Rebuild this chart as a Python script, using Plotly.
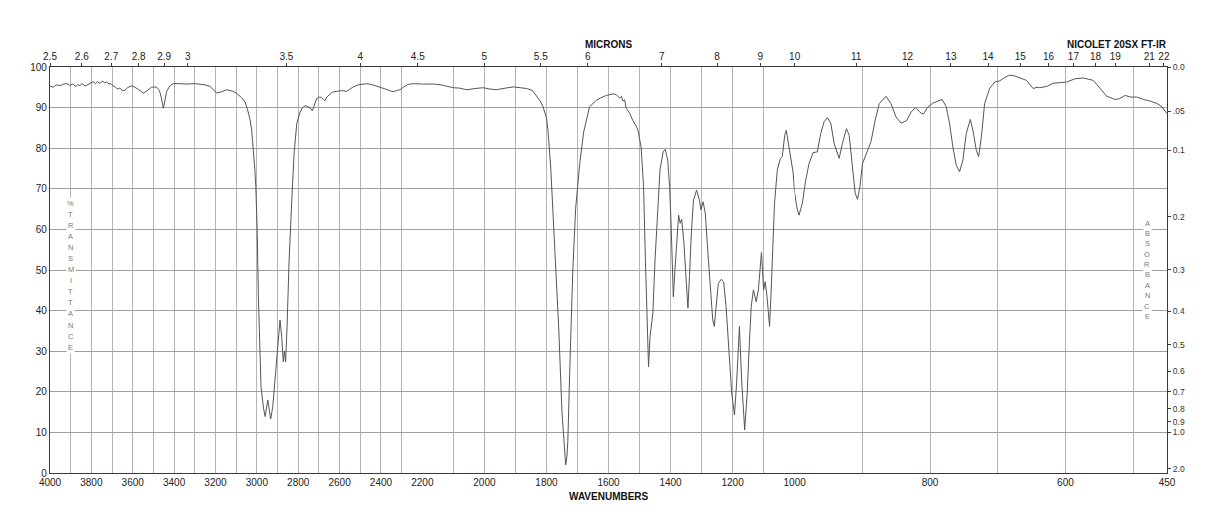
import plotly.graph_objects as go

# ---------------- data ----------------
wavenumber = [
    4000, 3985, 3970, 3950, 3935, 3919, 3905, 3890, 3875, 3865, 3855, 3845, 3830, 3815, 3800,
    3791, 3780, 3770, 3760, 3745, 3735, 3726, 3715, 3705, 3694, 3685, 3675, 3662, 3650, 3637,
    3625, 3610, 3600, 3585, 3573, 3560, 3549, 3535, 3525, 3510, 3492, 3480, 3471, 3462, 3452,
    3444, 3436, 3420, 3404, 3370, 3339, 3300, 3275, 3250, 3226, 3210, 3194, 3170, 3146, 3120,
    3097, 3075, 3057, 3045, 3033, 3025, 3017, 3010, 3005, 2998, 2993, 2986, 2980, 2968, 2960,
    2952, 2947, 2940, 2933, 2923, 2912, 2899, 2888, 2880, 2872, 2867, 2861, 2854, 2844, 2831,
    2820, 2807, 2791, 2780, 2767, 2756, 2743, 2732, 2722, 2711, 2697, 2687, 2678, 2670, 2662,
    2654, 2635, 2614, 2590, 2566, 2550, 2534, 2510, 2490, 2469, 2440, 2420, 2405, 2380, 2355,
    2340, 2325, 2308, 2292, 2270, 2243, 2220, 2200,
    2165, 2140, 2120, 2100, 2080, 2057, 2030, 2004, 1985, 1961, 1940, 1920, 1907, 1885, 1864,
    1845, 1832, 1820, 1811, 1800, 1795, 1786, 1773, 1760, 1750, 1742, 1738, 1734, 1731, 1725,
    1715, 1706, 1693, 1680, 1670, 1661, 1650, 1639, 1625, 1607, 1595, 1586, 1575, 1564, 1558,
    1554, 1548, 1543, 1532, 1522, 1511, 1505, 1495, 1487, 1481, 1475, 1471, 1466, 1457, 1450,
    1441, 1434, 1424, 1417, 1409, 1403, 1398, 1394, 1391, 1386, 1380, 1374, 1369, 1364, 1357,
    1350, 1344, 1339, 1333, 1326, 1316, 1307, 1302, 1295, 1288, 1281, 1273, 1264, 1259, 1251,
    1246, 1237, 1229, 1221, 1212, 1203, 1194, 1187, 1178, 1171, 1161, 1153, 1146, 1140, 1133,
    1124, 1117, 1111, 1107, 1100, 1095, 1089, 1081, 1076, 1070, 1065, 1056, 1046, 1040, 1032,
    1027, 1018, 1010, 1005, 1000,
    997, 993.6, 988.7, 983.7, 978.8, 972.9, 966.5, 961.5, 956.6, 951.7, 946.7, 941.7, 934.3,
    929.4, 923.5, 919.5, 914.6, 910.6, 907.2, 903.6, 899.8, 893.8, 887.3, 881, 875, 865.1,
    857.7, 850.3, 842.8, 834.5, 828, 821.6, 814.7, 809.8, 803.4, 796, 788.6, 782.1, 776.1,
    771.2, 766.3, 761.3, 756.4, 751.5, 746.5, 740.6, 736.7, 731.7, 728.3, 724.2, 719.4, 712,
    704.5, 697, 690, 682.3, 675, 667.5, 657.5, 647.7, 642, 637.8, 627.9, 618.1, 608, 598.2,
    586, 573.6, 558.8, 548.9, 539, 526.7, 520, 511.8, 504.4, 494.5, 484.6, 474.7, 464.8,
    457.4, 450,
]
transmittance = [
    95.3, 95.0, 95.6, 95.4, 95.8, 95.9, 95.5, 95.8, 95.2, 95.7, 95.4, 95.9, 95.3, 95.8, 96.1,
    96.4, 95.9, 96.4, 96.0, 96.5, 96.1, 96.3, 95.8, 95.9, 95.3, 95.1, 94.6, 94.8, 94.2, 94.3,
    94.9, 95.3, 95.3, 94.9, 94.5, 94.0, 93.6, 94.0, 94.4, 95.0, 95.1, 94.8, 94.2, 92.5, 89.8,
    92.0, 94.0, 95.4, 95.9, 95.9, 95.8, 95.9, 95.7, 95.6, 95.2, 94.4, 93.6, 93.9, 94.4, 94.1,
    93.5, 92.5, 91.4, 89.5, 87.0, 84.5, 80.3, 75.0, 70.5, 59.0, 44.3, 32.0, 21.3, 16.0, 13.9,
    16.5, 18.0, 15.5, 13.3, 16.4, 22.9, 30.3, 37.7, 33.6, 27.4, 30.0, 27.4, 36.0, 52.5, 67.2,
    78.7, 86.1, 88.9, 89.9, 90.5, 90.3, 90.0, 89.2, 90.6, 92.2, 92.6, 92.5, 92.0, 91.7, 92.6,
    93.0, 93.8, 94.0, 94.2, 94.0, 94.6, 95.1, 95.6, 95.8, 95.9, 95.6, 95.3, 95.1, 94.6, 94.1,
    93.9, 94.2, 94.4, 95.0, 95.7, 95.9, 95.8, 95.8,
    95.8, 95.6, 95.2, 94.9, 94.8, 94.4, 94.7, 94.9, 94.6, 94.4, 94.7, 95.0, 95.1, 94.9, 94.7,
    94.2, 93.0, 91.6, 90.2, 87.5, 84.4, 75.0, 55.0, 35.0, 15.0, 5.0, 2.0, 4.0, 8.0, 25.0,
    50.0, 65.0, 76.0, 84.0, 87.5, 90.2, 91.0, 91.8, 92.4, 93.0, 93.2, 93.4, 93.2, 92.3, 92.8,
    91.6, 91.9, 89.8, 88.6, 86.9, 85.5, 84.4, 80.3, 70.5, 52.5, 36.1, 26.2, 33.6, 39.4, 52.5,
    65.6, 74.6, 79.1, 79.7, 77.0, 70.5, 60.6, 48.4, 43.4, 50.0, 56.7, 63.5, 61.5, 62.5, 56.7,
    48.4, 40.6, 48.4, 59.1, 67.2, 69.7, 67.2, 64.8, 66.8, 64.0, 55.7, 45.9, 37.7, 36.1, 41.8,
    46.7, 47.7, 47.1, 41.0, 30.3, 19.7, 14.3, 22.3, 36.1, 22.9, 10.6, 19.7, 32.0, 41.0, 45.1,
    42.2, 45.1, 51.6, 54.3, 45.1, 47.1, 43.4, 36.1, 44.3, 56.6, 66.4, 74.6, 77.5, 77.9, 83.2,
    84.4, 80.3, 76.2, 74.0, 69.0,
    65.6, 63.5, 66.4, 72.1, 76.2, 78.9, 79.1, 83.6, 86.5, 87.5, 86.2, 81.2, 77.5,
    81.2, 84.8, 83.2, 74.6, 68.9, 67.4, 70.5, 76.2, 78.7, 81.6, 86.9, 91.0, 92.8,
    91.0, 87.7, 86.2, 86.8, 88.9, 90.0, 88.8, 88.4, 90.1, 91.1, 91.6, 92.0, 90.2,
    86.1, 80.3, 75.8, 74.2, 77.1, 83.6, 87.1, 84.4, 79.5, 77.9, 82.8, 91.0, 94.7,
    96.3, 96.6, 97.4, 98.0, 97.8, 97.3, 96.7, 94.7, 95.0, 94.9, 95.2, 96.0, 96.1, 96.3,
    97.1, 97.3, 96.7, 94.7, 92.8, 92.0, 92.2, 93.0, 92.6, 92.6, 92.0, 91.6, 91.0,
    90.2, 88.5,
]

# segment breaks of the wavenumber scale
segment_ranges = [(4000, 2200), (2200, 1000), (1000, 450)]
segment_ticks = [
    list(range(4000, 2199, -100)),
    list(range(2200, 999, -100)),
    [1000, 900, 800, 700, 600, 500, 450],
]
segment_labels = [
    ["4000", "", "3800", "", "3600", "", "3400", "", "3200", "", "3000", "", "2800", "",
     "2600", "", "2400", "", ""],
    ["2200", "", "2000", "", "1800", "", "1600", "", "1400", "", "1200", "", "1000"],
    ["", "", "800", "", "600", "", "450"],
]

micron_segments = [
    ["2.5", "2.6", "2.7", "2.8", "2.9", "3", "3.5", "4", "4.5"],
    ["5", "5.5", "6", "7", "8", "9", "10"],
    ["11", "12", "13", "14", "15", "16", "17", "18", "19", "21", "22"],
]

percent_ticks = [0, 10, 20, 30, 40, 50, 60, 70, 80, 90, 100]
absorbance_values = [0.0, 0.05, 0.1, 0.2, 0.3, 0.4, 0.5, 0.6, 0.7, 0.8, 0.9, 1.0, 2.0]
absorbance_labels = ["0.0", ".05", "0.1", "0.2", "0.3", "0.4", "0.5", "0.6", "0.7", "0.8",
                     "0.9", "1.0", "2.0"]

# ---------------- figure ----------------
FONT = "Liberation Sans, Arial, Helvetica, sans-serif"
AXIS_COLOR = "#3a3a3a"
VGRID = "#b4b4b4"
HGRID = "#a0a0a0"
LINE_COLOR = "#555555"

fig = go.Figure()

domains = [[0, 1 / 3], [1 / 3, 2 / 3], [2 / 3, 1]]
axis_names = ["x", "x2", "x3"]

for i, (hi, lo) in enumerate(segment_ranges):
    xs, ys = [], []
    for w, t in zip(wavenumber, transmittance):
        if lo <= w <= hi:
            xs.append(w)
            ys.append(t)
    fig.add_trace(go.Scatter(x=xs, y=ys, mode="lines", xaxis=axis_names[i], yaxis="y",
                             line=dict(color=LINE_COLOR, width=1), hoverinfo="x+y"))
    # invisible trace to activate the top (micron) axis of this segment
    fig.add_trace(go.Scatter(x=[hi, lo], y=[50, 50], mode="markers",
                             xaxis=f"x{i + 4}", yaxis="y",
                             marker=dict(opacity=0), hoverinfo="skip"))

# invisible trace to activate the absorbance axis
fig.add_trace(go.Scatter(x=[1000, 450], y=[50, 50], xaxis="x3", yaxis="y2", mode="markers",
                         marker=dict(opacity=0), hoverinfo="skip"))

# page body has an 8px margin: size the figure so the plot area lands where intended
layout = dict(
    width=1202, height=512,
    margin=dict(l=42, r=43, t=59, b=47),
    paper_bgcolor="white", plot_bgcolor="white",
    showlegend=False,
    font=dict(family=FONT, size=10, color="#222222"),
)

for i in range(3):
    hi, lo = segment_ranges[i]
    key = "xaxis" if i == 0 else f"xaxis{i + 1}"
    layout[key] = dict(
        domain=domains[i], range=[hi, lo], anchor="y",
        tickmode="array", tickvals=segment_ticks[i], ticktext=segment_labels[i],
        showgrid=True, gridcolor=VGRID, gridwidth=1,
        zeroline=False, showline=True, linecolor=AXIS_COLOR, linewidth=1.2,
        ticks="", tickfont=dict(size=10, color="#222222"),
    )
    layout[f"xaxis{i + 4}"] = dict(
        domain=domains[i], range=[hi, lo], overlaying=axis_names[i], side="top", anchor="y",
        tickmode="array",
        tickvals=[10000.0 / float(m) for m in micron_segments[i]],
        ticktext=micron_segments[i],
        showgrid=False, zeroline=False, showline=True, linecolor=AXIS_COLOR, linewidth=1.2,
        ticks="outside", ticklen=3, tickcolor=AXIS_COLOR, tickwidth=1,
        ticklabelstandoff=-1,
        tickfont=dict(size=10, color="#222222"),
    )

layout["yaxis"] = dict(
    domain=[0, 1], range=[0, 100], anchor="x",
    tickmode="array", tickvals=percent_ticks,
    showgrid=True, gridcolor=HGRID, gridwidth=1,
    zeroline=False, showline=True, linecolor=AXIS_COLOR, linewidth=1.2,
    ticks="", tickfont=dict(size=10, color="#222222"),
)
layout["yaxis2"] = dict(
    range=[0, 100], overlaying="y", side="right", anchor="x3",
    tickmode="array", tickvals=[100 * 10 ** (-a) for a in absorbance_values],
    ticktext=absorbance_labels,
    showgrid=False, zeroline=False, showline=True, linecolor=AXIS_COLOR, linewidth=1.2,
    ticks="outside", ticklen=3, tickcolor=AXIS_COLOR,
    tickfont=dict(size=8.5, color="#333333"),
)

fig.update_layout(**layout)

annotations = [
    dict(text="<b>MICRONS</b>", xref="paper", yref="paper", x=0.5, y=1, yshift=23,
         showarrow=False, font=dict(size=10, color="#111111"), yanchor="middle"),
    dict(text="<b>NICOLET 20SX FT-IR</b>", xref="paper", yref="paper", x=1.002, y=1,
         yshift=23, xanchor="right", yanchor="middle", showarrow=False,
         font=dict(size=10, color="#111111")),
    dict(text="<b>WAVENUMBERS</b>", xref="paper", yref="paper", x=0.5, y=0, yshift=-23,
         showarrow=False, font=dict(size=10, color="#111111"), yanchor="middle"),
]

PLOT_TOP, PLOT_H = 67.0, 406.6
left_letters = list("%TRANSMITTANCE")
for k, ch in enumerate(left_letters):
    ypx = 203.3 + k * 11.1
    annotations.append(dict(text=ch, xref="paper", yref="paper", x=0.0185,
                            y=1 - (ypx - PLOT_TOP) / PLOT_H, showarrow=False,
                            font=dict(size=7.5, color="#7a7a7a"), bgcolor="white",
                            borderpad=1, xanchor="center", yanchor="middle"))
right_letters = list("ABSORBANCE")
for k, ch in enumerate(right_letters):
    ypx = 223.3 + k * 10.4
    annotations.append(dict(text=ch, xref="paper", yref="paper", x=0.9824,
                            y=1 - (ypx - PLOT_TOP) / PLOT_H, showarrow=False,
                            font=dict(size=7.5, color="#7a7a7a"), bgcolor="white",
                            borderpad=1, xanchor="center", yanchor="middle"))

fig.update_layout(annotations=annotations)

fig.write_html("out.html")
